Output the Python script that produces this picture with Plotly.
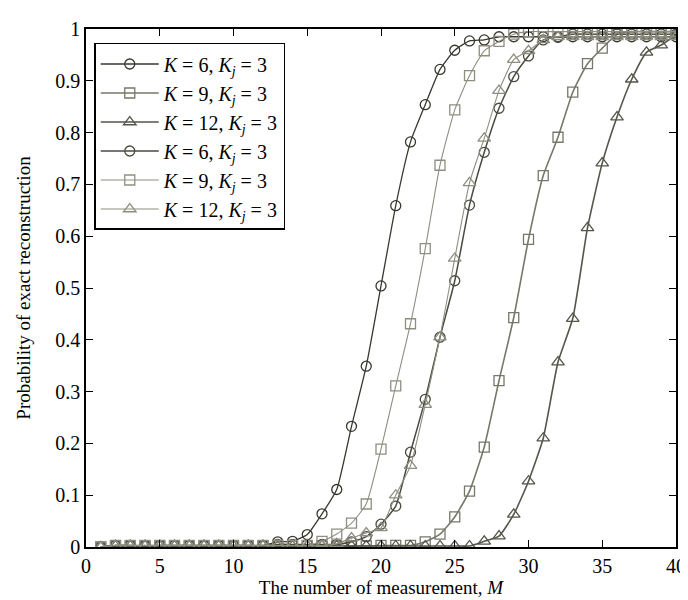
import plotly.graph_objects as go

M = list(range(1, 41))

# K=6 (first), left circle curve
p_k6_a = [0, .003, .003, .002, .003, .003, .003, .003, .003, .003, .003, .003,
          .010, .011, .024, .064, .111, .233, .349, .504, .659, .782, .854, .922,
          .959, .977, .979, .985, .985, .985, .985, .984, .985, .985, .985, .985,
          .985, .985, .985, .985]
# K=9 (first), right square curve
p_k9_a = [0, .002, .002, .002, .002, .002, .002, .002, .002, .002, .002, .002,
          .002, .002, .002, .002, .002, .002, .002, .003, .003, .003, .010, .025,
          .058, .108, .193, .321, .443, .594, .717, .791, .878, .933, .963, .990,
          .995, .995, .995, .995]
# K=12 (first), right triangle curve
p_k12_a = [0, .002, .002, .002, .002, .002, .002, .002, .002, .002, .002, .002,
           .002, .002, .002, .002, .002, .002, .002, .002, .002, .002, .002, .002,
           .002, .002, .011, .021, .063, .127, .210, .357, .441, .616, .741, .830,
           .903, .955, .969, .989]
# K=6 (second), right circle curve
p_k6_b = [0, .003, .003, .003, .003, .003, .003, .003, .003, .003, .003, .003,
          .005, .005, .005, .005, .005, .010, .020, .044, .079, .183, .285, .405,
          .514, .660, .762, .847, .908, .948, .979, .985, .990, .990, .990, .990,
          .990, .990, .990, .990]
# K=9 (second), left square curve
p_k9_b = [0, .003, .003, .003, .003, .003, .003, .003, .003, .003, .003, .003,
          .003, .003, .003, .011, .025, .046, .083, .189, .311, .431, .576, .737,
          .844, .910, .958, .976, .990, .995, .995, .995, .995, .995, .995, .995,
          .995, .995, .995, .995]
# K=12 (second), left triangle curve
p_k12_b = [0, .003, .003, .003, .003, .003, .003, .003, .003, .003, .003, .003,
           .003, .003, .003, .003, .006, .017, .027, .037, .100, .157, .275, .405,
           .557, .703, .789, .881, .941, .958, .979, .985, .985, .985, .985, .985,
           .985, .985, .985, .985]

labels = [
    "<i>K</i> = 6, <i>K</i><sub><i>j</i></sub> = 3",
    "<i>K</i> = 9, <i>K</i><sub><i>j</i></sub> = 3",
    "<i>K</i> = 12, <i>K</i><sub><i>j</i></sub> = 3",
    "<i>K</i> = 6, <i>K</i><sub><i>j</i></sub> = 3",
    "<i>K</i> = 9, <i>K</i><sub><i>j</i></sub> = 3",
    "<i>K</i> = 12, <i>K</i><sub><i>j</i></sub> = 3",
]

series = [p_k6_a, p_k9_a, p_k12_a, p_k6_b, p_k9_b, p_k12_b]
symbols = ["circle-open", "square-open", "triangle-up-open",
           "circle-open", "square-open", "triangle-up-open"]
colors = ["#38382f", "#77776a", "#55554a", "#4a4a40", "#8e8e80", "#8e8e80"]
widths = [1.3, 1.6, 1.6, 1.5, 1.1, 1.1]
sizes = [10, 10, 11, 10, 10, 11]

fig = go.Figure()
for y, lab, sym, col, w, s in zip(series, labels, symbols, colors, widths, sizes):
    fig.add_trace(go.Scatter(
        x=M, y=y, name=lab, mode="lines+markers",
        line=dict(color=col, width=w, shape="spline", smoothing=0.5),
        marker=dict(symbol=sym, size=s, color=col, line=dict(color=col, width=1.3)),
    ))

font_family = "Liberation Serif"
axis_common = dict(
    showline=True, linecolor="black", linewidth=1.5, mirror="ticks",
    ticks="inside", ticklen=7, tickwidth=1.2, tickcolor="black",
    showgrid=False, zeroline=False,
    tickfont=dict(family=font_family, size=20, color="black"),
)

fig.update_layout(
    width=688, height=600,
    margin=dict(l=78, r=10, t=16, b=61),
    plot_bgcolor="white", paper_bgcolor="white",
    font=dict(family=font_family, size=20, color="black"),
    xaxis=dict(range=[0, 40], dtick=5, tick0=0,
               title=dict(text="The number of measurement, <i>M</i>",
                          font=dict(family=font_family, size=19), standoff=2),
               **axis_common),
    yaxis=dict(range=[0, 1], dtick=0.1, tick0=0,
               title=dict(text="Probability of exact reconstruction",
                          font=dict(family=font_family, size=19), standoff=20),
               **axis_common),
    legend=dict(x=0.014, y=0.973, xanchor="left", yanchor="top",
                bgcolor="white", bordercolor="black", borderwidth=1.5,
                font=dict(family=font_family, size=20, color="black"),
                tracegroupgap=0, itemwidth=58),
    showlegend=True,
)

fig.write_html("out.html")
